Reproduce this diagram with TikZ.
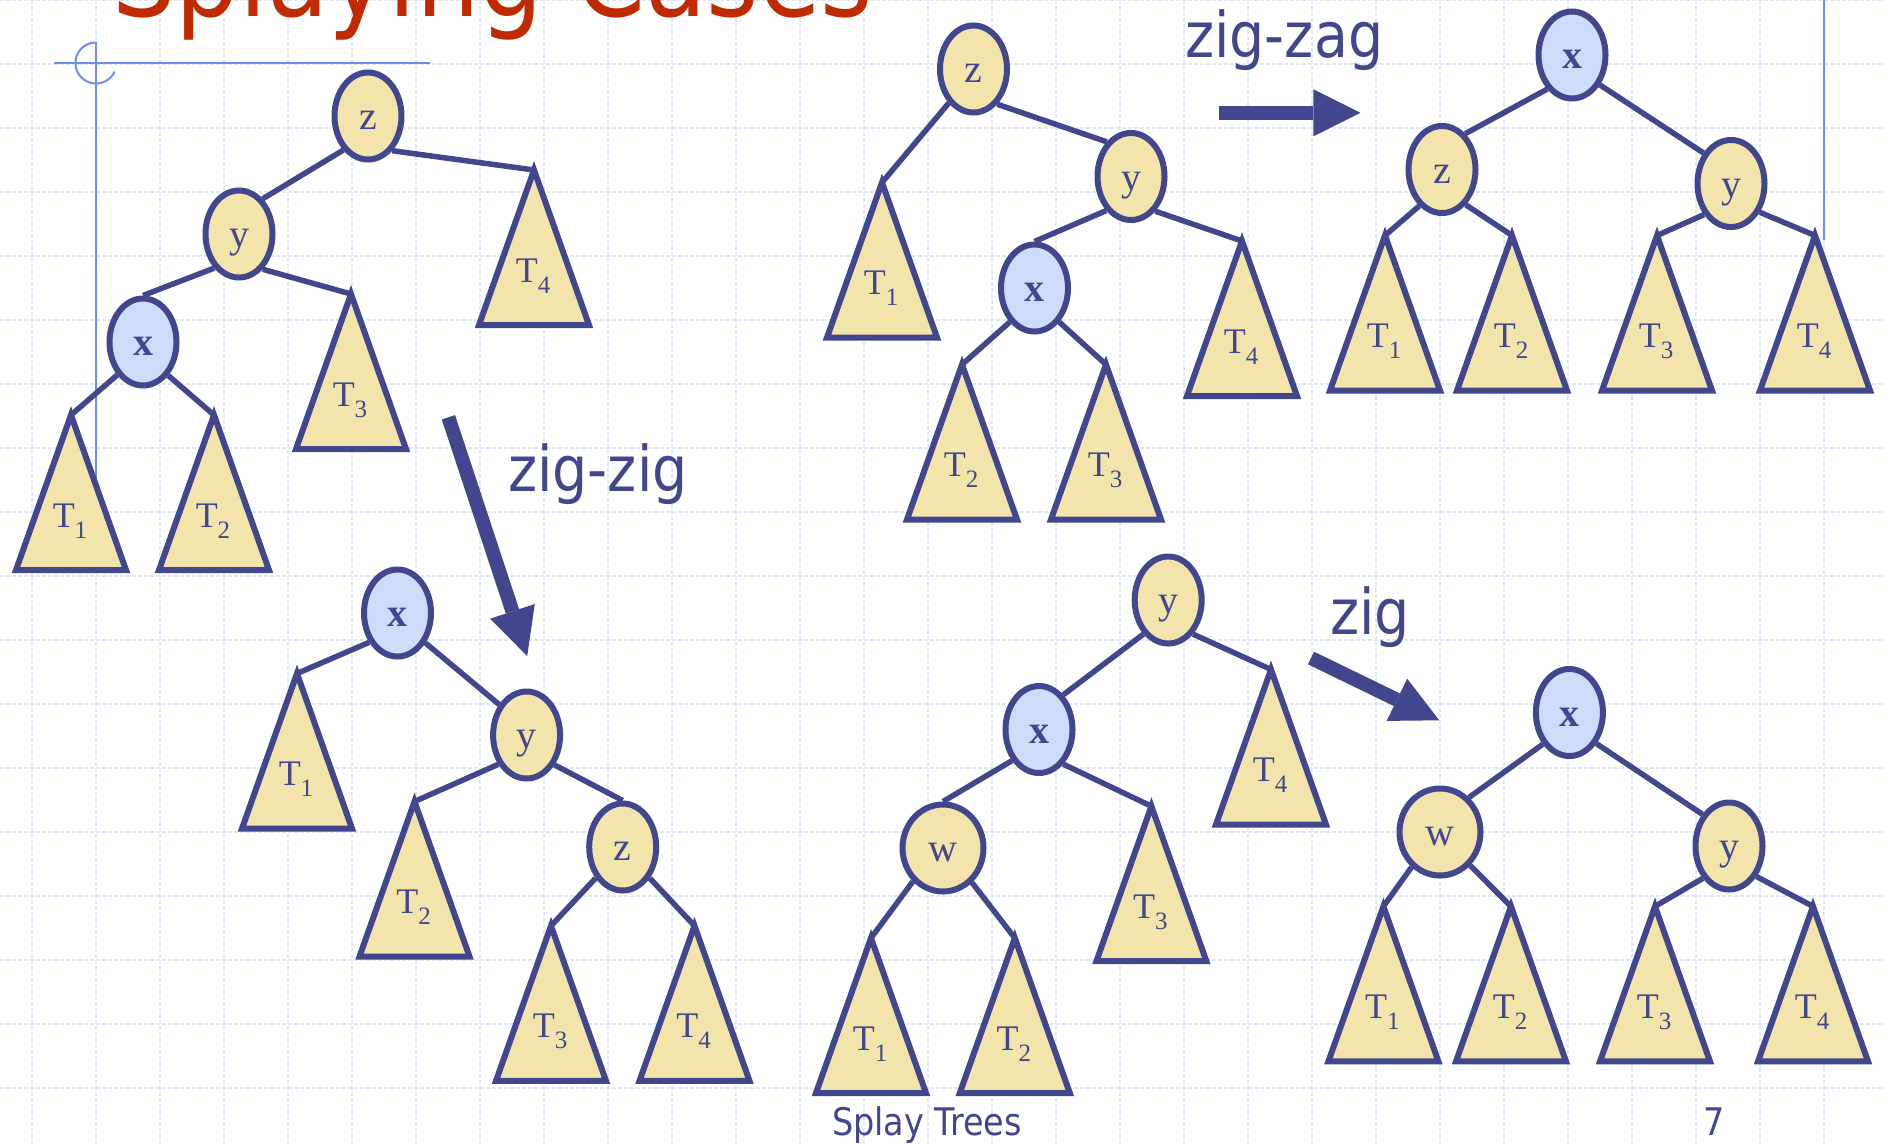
\documentclass[tikz,border=0pt]{standalone}
\usepackage{fontspec}
\setmainfont{Liberation Serif}
\newfontfamily\sansfnt[FakeStretch=0.88]{DejaVu Sans}
\usetikzlibrary{shapes.geometric,calc}
\definecolor{ink}{RGB}{66,70,140}
\definecolor{nodeyel}{RGB}{243,228,171}
\definecolor{nodeblue}{RGB}{206,219,250}
\definecolor{gridcol}{RGB}{222,230,250}
\definecolor{decoblue}{RGB}{110,140,240}
\definecolor{titlered}{RGB}{192,42,0}

\newcommand{\Tsub}[1]{T\raisebox{-11pt}{\fontsize{25}{25}\selectfont #1}}
\newcommand{\subtree}[4]{%
  \coordinate (#1) at (#2,#3);
  \draw[tri] (#1) -- ++(-55,155) -- ++(110,0) -- cycle;
  \node[tlab] (#1l) at ($(#1)+(-1,112)$) {\Tsub{#4}};
}
\newcommand{\bigarr}[3]{%
  \coordinate (#1s) at (#2);
  \coordinate (#1t) at (#3);
  \coordinate (#1m) at ($(#1t)!47pt!(#1s)$);
  \draw[arrowbody] (#1s) -- (#1m);
  \fill[ink] (#1t) -- ($(#1m)!23.5pt!90:(#1t)$) -- ($(#1m)!23.5pt!-90:(#1t)$) -- cycle;
}

\begin{document}
\begin{tikzpicture}[x=1pt,y=-1pt,
  gridline/.style={draw=gridcol, line width=1.1pt, dash pattern=on 4pt off 2pt},
  deco/.style={draw=decoblue, line width=2pt},
  tri/.style={draw=ink, fill=nodeyel, line width=6pt, line join=miter},
  tlab/.style={anchor=base, inner sep=0pt, text=ink, font=\fontsize{36}{36}\selectfont},
  bst/.style={ellipse, draw=ink, line width=6pt, fill=nodeyel, minimum width=67pt,
    minimum height=87pt, inner sep=0pt, text=ink, font=\fontsize{40}{40}\selectfont,
    text height=27pt, text depth=0pt},
  xn/.style={bst, fill=nodeblue, font=\fontsize{40}{40}\selectfont\bfseries},
  wn/.style={bst, minimum width=81pt},
  edge/.style={draw=ink, line width=5.5pt},
  arrowbody/.style={draw=ink, line width=14pt},
  lab/.style={anchor=base west, inner sep=0pt, text=ink, font=\sansfnt\fontsize{63}{63}\selectfont},
  foot/.style={inner sep=0pt, text=ink, font=\sansfnt\fontsize{38}{38}\selectfont}
]
\useasboundingbox[fill=white] (0,0) rectangle (1885,1144);
% grid
\foreach \gx in {32,96,...,1888} \draw[gridline] (\gx,0) -- (\gx,1144);
\foreach \gy in {0,64,...,1144} \draw[gridline] (0,\gy) -- (1885,\gy);
% decorations
\draw[deco] (54,63) -- (430,63);
\draw[deco] (96,42) -- (96,540);
\draw[deco] plot[domain=25:270, samples=50] ({96+20.5*cos(\x)},{63+20.5*sin(\x)});
\draw[deco] (1824,0) -- (1824,240);
% title
\node[anchor=base west, inner sep=0pt, text=titlered, font=\sansfnt\fontsize{114}{114}\selectfont] (title) at (112,16) {Splaying Cases};

% ---------- Tree A (zig-zig, before)
\subtree{A1}{71}{415}{1}
\subtree{A2}{214}{415}{2}
\subtree{A3}{351}{294}{3}
\subtree{A4}{534}{170}{4}
\node[bst] (zA) at (368,116) {z};
\node[bst] (yA) at (239,234) {y};
\node[xn] (xA) at (143,342) {x};
\draw[edge] (zA.234) -- (yA.56);
\draw[edge] (zA.305) -- (A4);
\draw[edge] (yA.234) -- (xA.north);
\draw[edge] (yA.304) -- (A3);
\draw[edge] (xA.232) -- (A1);
\draw[edge] (xA.307) -- (A2);

% ---------- Tree B (zig-zag, before)
\subtree{B1}{882}{182.5}{1}
\subtree{B2}{962}{364.5}{2}
\subtree{B3}{1106}{364.5}{3}
\subtree{B4}{1242}{241}{4}
\node[bst] (zB) at (973.5,69) {z};
\node[bst] (yB) at (1131,176.5) {y};
\node[xn] (xB) at (1034.5,288) {x};
\draw[edge] (zB.234) -- (B1);
\draw[edge] (zB.304) -- (yB.125);
\draw[edge] (yB.234) -- (xB.north);
\draw[edge] (yB.305) -- (B4);
\draw[edge] (xB.234) -- (B2);
\draw[edge] (xB.306) -- (B3);

% ---------- Tree C (zig-zag, after)
\subtree{C1}{1385}{235.5}{1}
\subtree{C2}{1512}{235.5}{2}
\subtree{C3}{1657}{235.5}{3}
\subtree{C4}{1815}{235.5}{4}
\node[xn] (xC) at (1572,55) {x};
\node[bst] (zC) at (1442,169.5) {z};
\node[bst] (yC) at (1731,183.5) {y};
\draw[edge] (xC.234) -- (zC.57);
\draw[edge] (xC.313) -- (yC.132);
\draw[edge] (zC.238) -- (C1);
\draw[edge] (zC.304) -- (C2);
\draw[edge] (yC.229) -- (C3);
\draw[edge] (yC.315) -- (C4);

% ---------- Tree D (zig-zig, after)
\subtree{D1}{297}{673.5}{1}
\subtree{D2}{414.5}{801.5}{2}
\subtree{D3}{551}{925.8}{3}
\subtree{D4}{694.5}{925.8}{4}
\node[xn] (xD) at (397.5,613) {x};
\node[bst] (yD) at (526.6,735) {y};
\node[bst] (zD) at (622.7,847) {z};
\draw[edge] (xD.226) -- (D1);
\draw[edge] (xD.313) -- (yD.132);
\draw[edge] (yD.226) -- (D2);
\draw[edge] (yD.313) -- (zD.north);
\draw[edge] (zD.229) -- (D3);
\draw[edge] (zD.311) -- (D4);

% ---------- Tree E (zig, before)
\subtree{E1}{871}{938}{1}
\subtree{E2}{1014.8}{938}{2}
\subtree{E3}{1151.4}{806.2}{3}
\subtree{E4}{1271}{669.5}{4}
\node[bst] (yE) at (1168.2,600) {y};
\node[xn] (xE) at (1039,729.5) {x};
\node[wn] (wE) at (943,848) {w};
\draw[edge] (yE.234) -- (xE.55);
\draw[edge] (yE.306) -- (E4);
\draw[edge] (xE.229) -- (wE.north);
\draw[edge] (xE.305) -- (E3);
\draw[edge] (wE.228) -- (E1);
\draw[edge] (wE.310) -- (E2);

% ---------- Tree F (zig, after)
\subtree{F1}{1383.4}{906.4}{1}
\subtree{F2}{1511}{906.4}{2}
\subtree{F3}{1655}{906.4}{3}
\subtree{F4}{1813}{906.4}{4}
\node[xn] (xF) at (1569.4,712.5) {x};
\node[wn] (wF) at (1440,832) {w};
\node[bst] (yF) at (1729,846) {y};
\draw[edge] (xF.230) -- (wF.50);
\draw[edge] (xF.311) -- (yF.130);
\draw[edge] (wF.231) -- (F1);
\draw[edge] (wF.312) -- (F2);
\draw[edge] (yF.231) -- (F3);
\draw[edge] (yF.312) -- (F4);

% ---------- arrows and labels
\bigarr{zz}{448.4,417.3}{527.2,656}
\bigarr{zg}{1218.5,112.8}{1360.4,112.8}
\bigarr{zi}{1311,658}{1439.2,720.3}
\node[lab] (lzz) at (508,491) {zig-zig};
\node[lab] (lzg) at (1185,57) {zig-zag};
\node[lab] (lzi) at (1330,634) {zig};

\node[foot, anchor=base west] (foot) at (832,1135) {Splay Trees};
\node[foot, anchor=base] (pnum) at (1714,1135) {7};
\end{tikzpicture}
\end{document}
